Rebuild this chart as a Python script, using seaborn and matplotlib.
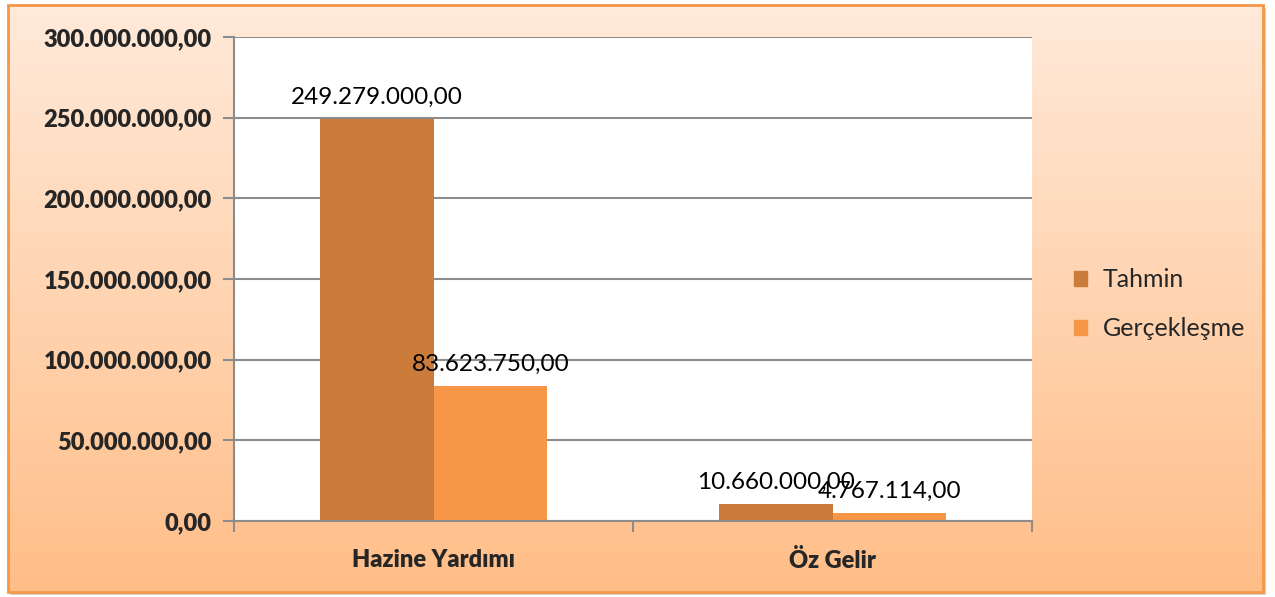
import numpy as np
import pandas as pd
import matplotlib.pyplot as plt
import matplotlib.patches as mpatches
from matplotlib.ticker import FuncFormatter
import seaborn as sns

# data
kategoriler = ["Hazine Yardımı", "Öz Gelir"]
tahmin = [249279000.00, 10660000.00]
gerceklesme = [83623750.00, 4767114.00]
seriler = ["Tahmin", "Gerçekleşme"]
renkler = ["#CB7B3A", "#F79646"]

df = pd.DataFrame({
    "Kategori": kategoriler * 2,
    "Seri": [seriler[0]] * 2 + [seriler[1]] * 2,
    "Tutar": tahmin + gerceklesme,
})


def tr_format(v):
    s = f"{v:,.2f}"
    return s.replace(",", "X").replace(".", ",").replace("X", ".")


sns.set_style("white")
plt.rcParams['font.family'] = ['Lato', 'DejaVu Sans']

W, H = 1275, 597
fig = plt.figure(figsize=(W / 100, H / 100), dpi=100)

# gradient background with orange frame
bg = fig.add_axes([0, 0, 1, 1], zorder=-10)
bg.set_xlim(0, W)
bg.set_ylim(H, 0)
bg.axis("off")
top = np.array([255, 234, 218]) / 255
bot = np.array([255, 190, 136]) / 255
t = np.linspace(0, 1, 256)[:, None]
grad = (top * (1 - t) + bot * t)[:, None, :]
bg.imshow(grad, extent=[8, 1263, 592, 5], aspect="auto", zorder=0)
bg.add_patch(mpatches.Rectangle((11, 8), 1255, 587, facecolor="#d0d0d0",
                                edgecolor="none", zorder=-1))
bg.add_patch(mpatches.Rectangle((8, 5), 1255, 587, facecolor="none",
                                edgecolor="#F79646", lw=2, zorder=2))

ax = fig.add_axes([234 / W, 1 - 521 / H, (1032 - 234) / W, (521 - 37) / H])
ax.set_facecolor("white")

sns.barplot(data=df, x="Kategori", y="Tutar", hue="Seri", hue_order=seriler,
            palette=renkler, width=0.57, saturation=1, ax=ax, errorbar=None,
            edgecolor="none")

ax.set_ylim(0, 300000000)
ax.set_xlim(-0.5, 1.5)
ax.set_yticks(np.arange(0, 300000001, 50000000))
ax.yaxis.set_major_formatter(FuncFormatter(lambda v, p: tr_format(v)))
ax.yaxis.grid(True, color="#8c8c8c", lw=1.5)
ax.set_axisbelow(True)
for lab in ax.get_yticklabels():
    lab.set_fontweight("heavy")
ax.tick_params(axis="y", labelsize=17, length=8, width=1.5, color="#8c8c8c",
               left=True, pad=8)
ax.tick_params(axis="x", labelsize=17, length=0, pad=20)
for lab in ax.get_xticklabels():
    lab.set_fontweight("heavy")
ax.set_xticks([-0.5, 0.5, 1.5], minor=True)
ax.tick_params(axis="x", which="minor", length=8, width=1.5, color="#8c8c8c",
               bottom=True)
ax.set_xlabel("")
ax.set_ylabel("")

for side in ["top", "right"]:
    ax.spines[side].set_visible(False)
for side in ["left", "bottom"]:
    ax.spines[side].set_color("#8c8c8c")
    ax.spines[side].set_linewidth(1.5)

for cont in ax.containers:
    ax.bar_label(cont, labels=[tr_format(v) for v in cont.datavalues],
                 fontsize=17.5, padding=8, color="black")

handles = [mpatches.Patch(color=c) for c in renkler]
leg = ax.legend(handles, seriler, loc="center left",
                bbox_to_anchor=(1.024, 0.448), frameon=False, fontsize=18,
                handlelength=0.55, handleheight=0.55, handletextpad=0.6,
                labelspacing=1.05)

fig.savefig("out.png", dpi=100)
